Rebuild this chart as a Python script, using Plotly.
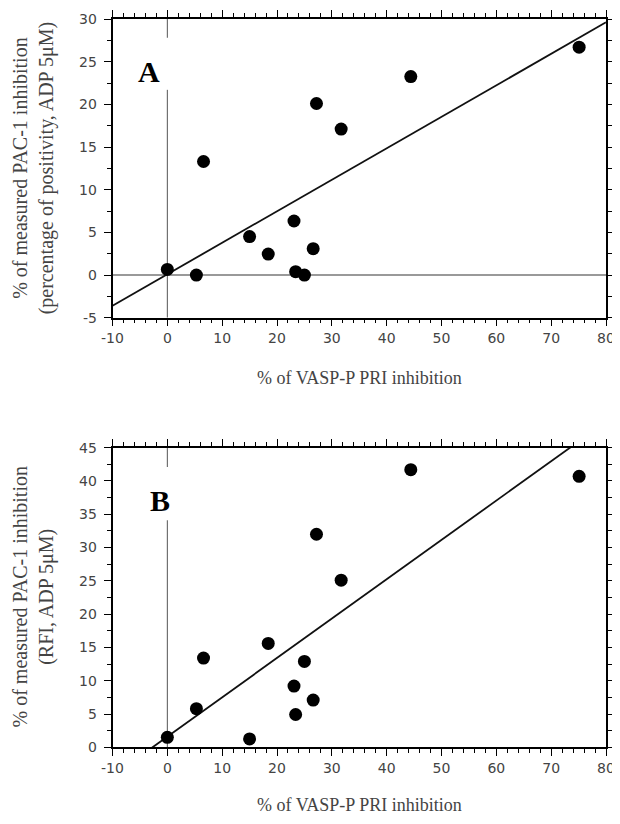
import plotly.graph_objects as go
import numpy as np

# ---- data ----
vasp_x = [0.0, 5.3, 6.6, 15.0, 18.4, 23.1, 23.4, 25.0, 26.6, 27.2, 31.7, 44.4, 75.1]
pac1_pos_A = [0.66, 0.0, 13.3, 4.5, 2.46, 6.33, 0.39, 0.0, 3.09, 20.1, 17.1, 23.25, 26.7]
pac1_rfi_B = [1.5, 5.8, 13.4, 1.26, 15.6, 9.2, 4.93, 12.9, 7.1, 32.0, 25.1, 41.7, 40.7]

fit_A = {"slope": 0.369, "intercept": 0.09}
fit_B = {"slope": 0.591, "intercept": 1.6}

x_range = [-10, 80]
yA_range = [-5, 30]
yB_range = [0, 45]
x_ticks = list(range(-10, 81, 10))
yA_ticks = list(range(-5, 31, 5))
yB_ticks = list(range(0, 46, 5))

# gaps in the x=0 reference line behind the panel letters
gap_A = [21.7, 27.8]
gap_B = [34.1, 42.1]

xlabel = "% of VASP-P PRI inhibition"
ylabel_A = "% of measured PAC-1 inhibition<br>(percentage of positivity, ADP 5μM)"
ylabel_B = "% of measured PAC-1 inhibition<br>(RFI, ADP 5μM)"

# page body adds an 8px margin; figure coordinates are screen coordinates minus 8
OFF = 8
W, H = 612, 808
def px(xs):
    return (xs - OFF) / W
def py(ys):
    return 1 - (ys - OFF) / H

xdom = [px(112.5), px(606)]
ydomA = [py(317.7), py(19)]
ydomB = [py(747.3), py(447.7)]

fig = go.Figure()

def add_panel(xa, ya, yvals, fit):
    xl = np.array(x_range, dtype=float)
    fig.add_trace(go.Scatter(x=xl, y=fit["slope"] * xl + fit["intercept"], mode="lines",
                             line=dict(color="#111", width=1.8), xaxis=xa, yaxis=ya,
                             hoverinfo="skip", showlegend=False))
    fig.add_trace(go.Scatter(x=vasp_x, y=yvals, mode="markers",
                             marker=dict(color="black", size=13), xaxis=xa, yaxis=ya,
                             showlegend=False))

add_panel("x", "y", pac1_pos_A, fit_A)
add_panel("x2", "y2", pac1_rfi_B, fit_B)
# empty traces so the top frame axes get drawn
for xa, ya in [("x3", "y"), ("x4", "y2")]:
    fig.add_trace(go.Scatter(x=[], y=[], xaxis=xa, yaxis=ya, showlegend=False, hoverinfo="skip"))

# reference lines
line_v = dict(color="#555", width=1)
for xr, yr, yrg, gap in [("x", "y", yA_range, gap_A), ("x2", "y2", yB_range, gap_B)]:
    fig.add_shape(type="line", xref=xr, yref=yr, x0=0, x1=0, y0=yrg[0], y1=gap[0], line=line_v, layer="below")
    fig.add_shape(type="line", xref=xr, yref=yr, x0=0, x1=0, y0=gap[1], y1=yrg[1], line=line_v, layer="below")
fig.add_shape(type="line", xref="x", yref="y", x0=x_range[0], x1=x_range[1], y0=0, y1=0,
              line=dict(color="#999", width=2), layer="below")

tickfont = dict(family="DejaVu Sans", size=14, color="#444")
minor_x = dict(dtick=2, ticks="outside", ticklen=4, tickcolor="black", tickwidth=1, showgrid=False)
minor_y = dict(dtick=2.5, ticks="outside", ticklen=4, tickcolor="black", tickwidth=1, showgrid=False)
base = dict(ticks="outside", ticklen=7, tickwidth=1.2, tickcolor="black", showline=True,
            linecolor="black", linewidth=1.5, showgrid=False, zeroline=False, automargin=False)

def xax(anchor, side="bottom", labels=True, overlaying=None):
    d = dict(**base, range=x_range, tickvals=x_ticks, ticktext=[str(v) for v in x_ticks],
             minor=minor_x, anchor=anchor, side=side, showticklabels=labels,
             tickfont=tickfont, ticklabeloverflow="allow")
    if overlaying:
        d["overlaying"] = overlaying
    else:
        d["domain"] = xdom
    return d

def yax(anchor, rng, ticks, dom):
    return dict(**base, range=rng, tickvals=ticks, ticktext=[str(v) for v in ticks],
                minor=minor_y, anchor=anchor, side="left", mirror="ticks",
                tickfont=tickfont, ticklabeloverflow="allow", ticklabelstandoff=4, domain=dom)

fig.update_layout(
    width=W, height=H, margin=dict(l=0, r=0, t=0, b=0),
    plot_bgcolor="white", paper_bgcolor="white",
    xaxis=xax("y"),
    yaxis=yax("x", yA_range, yA_ticks, ydomA),
    xaxis2=xax("y2"),
    yaxis2=yax("x2", yB_range, yB_ticks, ydomB),
    xaxis3=xax("y", side="top", labels=False, overlaying="x"),
    xaxis4=xax("y2", side="top", labels=False, overlaying="x2"),
)

xtitlefont = dict(family="Liberation Serif", size=18, color="#444")
ytitlefont = dict(family="Liberation Serif", size=20, color="#444")
xc = (xdom[0] + xdom[1]) / 2
fig.add_annotation(text=xlabel, xref="paper", yref="paper", x=xc, y=py(378),
                   showarrow=False, font=xtitlefont, xanchor="center", yanchor="middle")
fig.add_annotation(text=xlabel, xref="paper", yref="paper", x=xc, y=0,
                   showarrow=False, font=xtitlefont, xanchor="center", yanchor="bottom",
                   borderpad=0)
fig.add_annotation(text=ylabel_A, xref="paper", yref="paper", x=px(33), y=(ydomA[0] + ydomA[1]) / 2,
                   showarrow=False, font=ytitlefont, textangle=-90, xanchor="center", yanchor="middle")
fig.add_annotation(text=ylabel_B, xref="paper", yref="paper", x=px(33), y=(ydomB[0] + ydomB[1]) / 2,
                   showarrow=False, font=ytitlefont, textangle=-90, xanchor="center", yanchor="middle")

letterfont = dict(family="Liberation Serif", size=30, color="black")
fig.add_annotation(text="<b>A</b>", xref="paper", yref="paper", x=px(149), y=py(72),
                   showarrow=False, font=letterfont, xanchor="center", yanchor="middle")
fig.add_annotation(text="<b>B</b>", xref="paper", yref="paper", x=px(160), y=py(500),
                   showarrow=False, font=letterfont, xanchor="center", yanchor="middle")

fig.write_html("out.html")
